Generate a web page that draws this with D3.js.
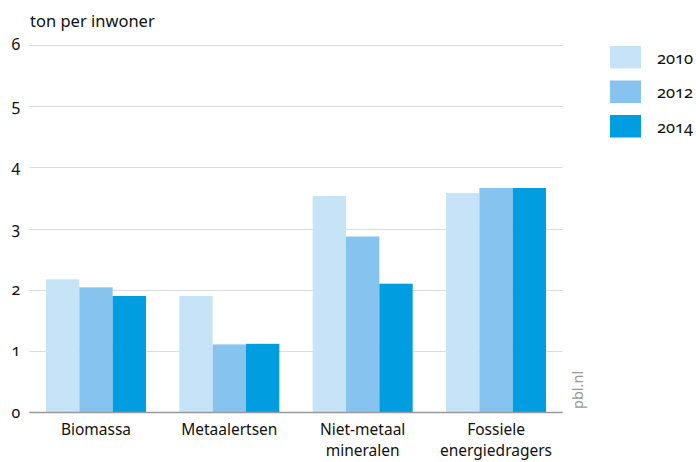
<!DOCTYPE html>
<html><head><meta charset="utf-8">
<script src="https://cdn.jsdelivr.net/npm/d3@7"></script>
<style>
body{margin:0;background:#fff;}
text{font-family:"Noto Sans",sans-serif;font-variant-numeric:oldstyle-nums;font-feature-settings:"onum" 1;}
</style></head><body>
<svg id="c" width="696" height="462"></svg>
<script>
const categories = [["Biomassa"],["Metaalertsen"],["Niet-metaal","mineralen"],["Fossiele","energiedragers"]];
const years = ["2010","2012","2014"];
const v2010 = [2.17, 1.90, 3.53, 3.58];
const v2012 = [2.04, 1.11, 2.87, 3.66];
const v2014 = [1.90, 1.12, 2.10, 3.66];
const yTicks = [0,1,2,3,4,5,6];
const colors = ["#c7e3f8","#86c4ef","#009ee0"];

const series = [v2010, v2012, v2014];
const svg = d3.select("#c");
const x0 = d3.scaleBand().domain(d3.range(categories.length)).range([29.3,562.7]).paddingInner(0.25).paddingOuter(0.125);
const x1 = d3.scaleBand().domain(d3.range(years.length)).range([0,x0.bandwidth()]);
const y = d3.scaleLinear().domain([0,6]).range([412.5,44.5]);

// gridlines
svg.append("g").selectAll("line").data(yTicks.filter(d=>d>0)).join("line")
  .attr("x1",29.3).attr("x2",562.7).attr("y1",d=>Math.round(y(d))+0.5).attr("y2",d=>Math.round(y(d))+0.5)
  .attr("stroke","#dcdcdc").attr("stroke-width",1);

// y tick labels
svg.append("g").selectAll("text").data(yTicks).join("text")
  .attr("x",16).attr("y",d=>y(d)+5).attr("text-anchor","middle")
  .attr("font-size",16).attr("fill","#111").text(d=>d);

// bars
const g = svg.append("g");
categories.forEach((c,i)=>{
  series.forEach((s,j)=>{
    g.append("rect").attr("x",x0(i)+x1(j)).attr("width",x1.bandwidth())
      .attr("y",y(s[i])).attr("height",y(0)-y(s[i])).attr("fill",colors[j]);
  });
});

// zero axis
svg.append("line").attr("x1",29.3).attr("x2",562.7).attr("y1",412.5).attr("y2",412.5)
  .attr("stroke","#999").attr("stroke-width",1.5);

// category labels (one text per line)
categories.forEach((c,i)=>{
  c.forEach((line,k)=>{
    svg.append("text").attr("x",x0(i)+x0.bandwidth()/2).attr("y",434.5+k*21)
      .attr("text-anchor","middle").attr("font-size",15.5).attr("fill","#111").text(line);
  });
});

// title
svg.append("text").attr("x",30).attr("y",27).attr("font-size",16.5).attr("fill","#111").text("ton per inwoner");

// legend
years.forEach((yr,j)=>{
  svg.append("rect").attr("x",610).attr("y",46+j*34.5).attr("width",31).attr("height",22.5).attr("fill",colors[j]);
  svg.append("text").attr("x",657).attr("y",63.5+j*34.5).attr("font-size",16.5).attr("fill","#111").text(yr);
});

// pbl.nl
svg.append("text").attr("transform","translate(583,409) rotate(-90)").attr("font-size",14.5)
  .attr("fill","#999").text("pbl.nl");
</script></body></html>
